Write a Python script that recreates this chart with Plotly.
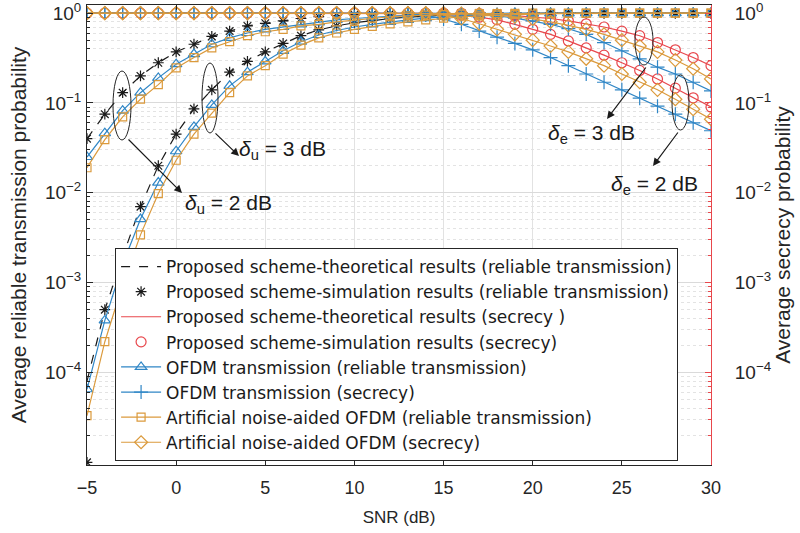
import plotly.graph_objects as go

snr = list(range(-5, 31))

# ---- reliable transmission probability (two groups: delta_u = 2 dB and 3 dB) ----
rel_prop_sim_2 = [0.040, 0.075, 0.13, 0.20, 0.28, 0.37, 0.45, 0.55, 0.63, 0.72, 0.77, 0.82, 0.87,
                  0.91, 0.94, 0.96, 0.97, 0.98, 0.985, 0.99, 0.995] + [1.0] * 15
rel_prop_theo_2 = [0.040, 0.075, 0.13, 0.20, 0.28, 0.37, 0.45, 0.55, 0.63, 0.72, 0.77, 0.82, 0.87,
                   0.91, 0.94, 0.96, 0.97, 0.98, 0.985, 0.99, 0.995] + [1.0] * 15
rel_ofdm_2 = [0.025, 0.046, 0.082, 0.13, 0.19, 0.27, 0.35, 0.45, 0.53, 0.60, 0.66, 0.70, 0.75, 0.79,
              0.84, 0.87, 0.90, 0.93, 0.95, 0.96, 0.97, 0.98, 0.99, 0.995] + [1.0] * 12
rel_an_2 = [0.019, 0.039, 0.07, 0.11, 0.16, 0.245, 0.32, 0.41, 0.48, 0.56, 0.62, 0.66, 0.72, 0.75,
            0.80, 0.84, 0.88, 0.91, 0.93, 0.95, 0.96, 0.975, 0.985, 0.99, 0.995] + [1.0] * 11

rel_prop_sim_3 = [1.0e-5, 5.0e-4, 1.95e-3, 7.0e-3, 0.020, 0.045, 0.086, 0.14, 0.22, 0.29, 0.37, 0.46,
                  0.56, 0.65, 0.72, 0.78, 0.83, 0.87, 0.90, 0.93, 0.95, 0.965, 0.975, 0.985, 0.99,
                  0.995] + [1.0] * 10
rel_prop_theo_3 = [8.0e-5, 5.0e-4, 1.95e-3, 7.0e-3, 0.020, 0.045, 0.086, 0.14, 0.22, 0.29, 0.37, 0.46,
                   0.56, 0.65, 0.72, 0.78, 0.83, 0.87, 0.90, 0.93, 0.95, 0.965, 0.975, 0.985, 0.99,
                   0.995] + [1.0] * 10
rel_ofdm_3 = [6.5e-5, 3.8e-4, 1.6e-3, 5.1e-3, 0.013, 0.029, 0.054, 0.095, 0.155, 0.22, 0.29, 0.38,
              0.48, 0.57, 0.64, 0.70, 0.75, 0.80, 0.84, 0.88, 0.91, 0.93, 0.95, 0.965, 0.975, 0.985,
              0.99, 0.995] + [1.0] * 8
rel_an_3 = [3.3e-5, 2.2e-4, 9.5e-4, 3.4e-3, 9.8e-3, 0.023, 0.045, 0.077, 0.13, 0.20, 0.26, 0.35,
            0.44, 0.53, 0.60, 0.66, 0.71, 0.76, 0.80, 0.84, 0.88, 0.91, 0.93, 0.95, 0.965, 0.975,
            0.985, 0.99, 0.995] + [1.0] * 7

# ---- secrecy probability (two groups: delta_e = 3 dB and 2 dB) ----
sec_prop_3 = [1.0] * 21 + [0.995, 0.985, 0.97, 0.94, 0.91, 0.87, 0.82, 0.76, 0.70, 0.63, 0.56, 0.47,
                           0.39, 0.32, 0.26]
sec_an_3 = [1.0] * 21 + [0.99, 0.975, 0.95, 0.91, 0.86, 0.80, 0.73, 0.66, 0.58, 0.50, 0.43, 0.37,
                         0.30, 0.24, 0.185]
sec_ofdm_3 = [1.0] * 20 + [0.995, 0.98, 0.96, 0.93, 0.88, 0.82, 0.75, 0.67, 0.58, 0.47, 0.38, 0.31,
                           0.25, 0.21, 0.17, 0.136]

sec_prop_2 = [1.0] * 19 + [0.995, 0.98, 0.95, 0.90, 0.84, 0.75, 0.66, 0.58, 0.49, 0.41, 0.34, 0.28,
                           0.23, 0.185, 0.146, 0.114, 0.09]
sec_an_2 = [1.0] * 19 + [0.99, 0.95, 0.87, 0.76, 0.66, 0.58, 0.50, 0.43, 0.37, 0.31, 0.26, 0.21,
                         0.17, 0.14, 0.11, 0.085, 0.066]
sec_ofdm_2 = [1.0] * 18 + [0.99, 0.95, 0.86, 0.75, 0.63, 0.54, 0.46, 0.39, 0.32, 0.26, 0.21, 0.17,
                           0.14, 0.113, 0.092, 0.075, 0.06, 0.049]

y_tickvals = [1e-4, 1e-3, 1e-2, 1e-1, 1]
y_ticktext = ["10<sup>\u22124</sup>", "10<sup>\u22123</sup>", "10<sup>\u22122</sup>",
              "10<sup>\u22121</sup>", "10<sup>0</sup>"]
x_tickvals = [-5, 0, 5, 10, 15, 20, 25, 30]

legend_names = [
    "Proposed scheme-theoretical results (reliable transmission)",
    "Proposed scheme-simulation results (reliable transmission)",
    "Proposed scheme-theoretical results (secrecy )",
    "Proposed scheme-simulation results (secrecy)",
    "OFDM transmission (reliable transmission)",
    "OFDM transmission (secrecy)",
    "Artificial noise-aided OFDM (reliable transmission)",
    "Artificial noise-aided OFDM (secrecy)",
]

BLACK = "#1a1a1a"
RED = "#E8474C"
BLUE = "#2F86C6"
ORANGE = "#DB9A3C"
FONT = "Liberation Sans, Arial, sans-serif"
LEGEND_FONT = "DejaVu Sans, Liberation Sans, sans-serif"

fig = go.Figure()


def add(name, ys, mode, color, dash=None, symbol=None, size=8, first=True):
    kw = dict(x=snr, y=ys, mode=mode, name=name, legendgroup=name, showlegend=first)
    if "lines" in mode:
        kw["line"] = dict(color=color, width=1.2, dash=dash or "solid")
    if "markers" in mode:
        kw["marker"] = dict(symbol=symbol, size=size, color=color,
                            line=dict(color=color, width=1.2))
    fig.add_trace(go.Scatter(**kw))


add(legend_names[0], rel_prop_theo_2, "lines", BLACK, dash="dash")
add(legend_names[0], rel_prop_theo_3, "lines", BLACK, dash="dash", first=False)
add(legend_names[1], rel_prop_sim_2, "markers", BLACK, symbol="asterisk-open", size=9)
add(legend_names[1], rel_prop_sim_3, "markers", BLACK, symbol="asterisk-open", size=9, first=False)
add(legend_names[2], sec_prop_3, "lines", RED)
add(legend_names[2], sec_prop_2, "lines", RED, first=False)
add(legend_names[3], sec_prop_3, "markers", RED, symbol="circle-open", size=10)
add(legend_names[3], sec_prop_2, "markers", RED, symbol="circle-open", size=10, first=False)
add(legend_names[4], rel_ofdm_2, "lines+markers", BLUE, symbol="triangle-up-open", size=10)
add(legend_names[4], rel_ofdm_3, "lines+markers", BLUE, symbol="triangle-up-open", size=10, first=False)
add(legend_names[5], sec_ofdm_3, "lines+markers", BLUE, symbol="cross-thin-open", size=10)
add(legend_names[5], sec_ofdm_2, "lines+markers", BLUE, symbol="cross-thin-open", size=10, first=False)
add(legend_names[6], rel_an_2, "lines+markers", ORANGE, symbol="square-open", size=8)
add(legend_names[6], rel_an_3, "lines+markers", ORANGE, symbol="square-open", size=8, first=False)
add(legend_names[7], sec_an_3, "lines+markers", ORANGE, symbol="diamond-open", size=10)
add(legend_names[7], sec_an_2, "lines+markers", ORANGE, symbol="diamond-open", size=10, first=False)

# empty trace to anchor the right-hand axis
fig.add_trace(go.Scatter(x=[None], y=[None], yaxis="y2", showlegend=False, hoverinfo="skip"))

minor_vals = [m * 10.0 ** e for e in range(-5, 0) for m in range(2, 10)]
YRANGE = [-5.03, 0.09]

fig.update_layout(
    width=800, height=533,
    margin=dict(l=87, r=89, t=5, b=68),
    paper_bgcolor="white", plot_bgcolor="white",
    font=dict(family=FONT, size=16, color="#262626"),
    showlegend=True,
    legend=dict(x=0.045, y=0.4717, xanchor="left", yanchor="top",
                bgcolor="white", bordercolor="#262626", borderwidth=1,
                font=dict(family=LEGEND_FONT, size=17, color="#1a1a1a"),
                tracegroupgap=0, itemwidth=40),
    xaxis=dict(range=[-5, 30], tickvals=x_tickvals, ticks="inside", ticklen=5,
               tickcolor="#262626", showline=True, linecolor="#262626", linewidth=1,
               mirror="ticks", showgrid=True, gridcolor="#E2E2E2", gridwidth=1,
               zeroline=False, tickfont=dict(size=18), ticklabelstandoff=6,
               title=dict(text="SNR (dB)", font=dict(size=17), standoff=14),
               automargin=False),
    yaxis=dict(type="log", range=YRANGE, tickvals=y_tickvals, ticktext=y_ticktext,
               ticks="inside", ticklen=6, tickcolor="#262626", showline=True,
               linecolor="#262626", linewidth=1, showgrid=True, gridcolor="#DADADA",
               zeroline=False, tickfont=dict(size=19), ticklabelstandoff=1,
               ticklabeloverflow="allow",
               minor=dict(tickvals=minor_vals, ticks="inside", ticklen=3, tickcolor="#262626",
                          showgrid=True, gridcolor="#E3E3E3", griddash="dot", gridwidth=1),
               title=dict(text="Average reliable transmission probability", font=dict(size=21),
                          standoff=12),
               automargin=False),
    yaxis2=dict(type="log", range=YRANGE, overlaying="y", side="right",
                tickvals=y_tickvals, ticktext=y_ticktext, ticks="inside", ticklen=6,
                tickcolor=RED, showline=True, linecolor=RED, linewidth=1, showgrid=False,
                zeroline=False, tickfont=dict(size=19, color="#262626"), ticklabelstandoff=19,
                ticklabeloverflow="allow",
                minor=dict(tickvals=minor_vals, ticks="inside", ticklen=3, tickcolor=RED,
                           showgrid=False),
                title=dict(text="Average secrecy probability", font=dict(size=21), standoff=4),
                automargin=False),
)

W0, W1, H0, H1 = 87, 711, 5, 465


def px(xp):
    return (xp - W0) / (W1 - W0)


def py(yp):
    return (H1 - yp) / (H1 - H0)


# ellipses (pixel boxes)
ellipses = [(113, 71, 131, 140), (202, 63, 218, 133), (635, 17, 653, 65), (672, 75, 689, 130)]
for (a, b, c, d) in ellipses:
    fig.add_shape(type="circle", xref="paper", yref="paper", x0=px(a), x1=px(c), y0=py(d), y1=py(b),
                  line=dict(color="#262626", width=1))

# arrows: (tip_x, tip_y, tail_x, tail_y)
arrows = [(182, 193, 127, 138), (239, 156, 214, 132), (607, 119, 647, 66), (653, 166, 679, 131)]
for (tx, ty, sx, sy) in arrows:
    fig.add_annotation(x=px(tx), y=py(ty), xref="paper", yref="paper", text="",
                       showarrow=True, arrowhead=2, arrowsize=1.3, arrowwidth=1.2,
                       arrowcolor="#1a1a1a", ax=sx - tx, ay=sy - ty, standoff=0)

labels = [(228, 204, "<i>\u03b4</i><sub>u</sub> = 2 dB"),
          (282, 150, "<i>\u03b4</i><sub>u</sub> = 3 dB"),
          (591, 134, "<i>\u03b4</i><sub>e</sub> = 3 dB"),
          (654, 185, "<i>\u03b4</i><sub>e</sub> = 2 dB")]
for (lx, ly, t) in labels:
    fig.add_annotation(x=px(lx), y=py(ly), xref="paper", yref="paper", text=t, showarrow=False,
                       font=dict(family=FONT, size=21, color="#1a1a1a"),
                       xanchor="center", yanchor="middle", bgcolor="rgba(255,255,255,0)")

fig.write_html("out.html", config={"displayModeBar": False},
               post_script="document.body.style.margin='0';")
